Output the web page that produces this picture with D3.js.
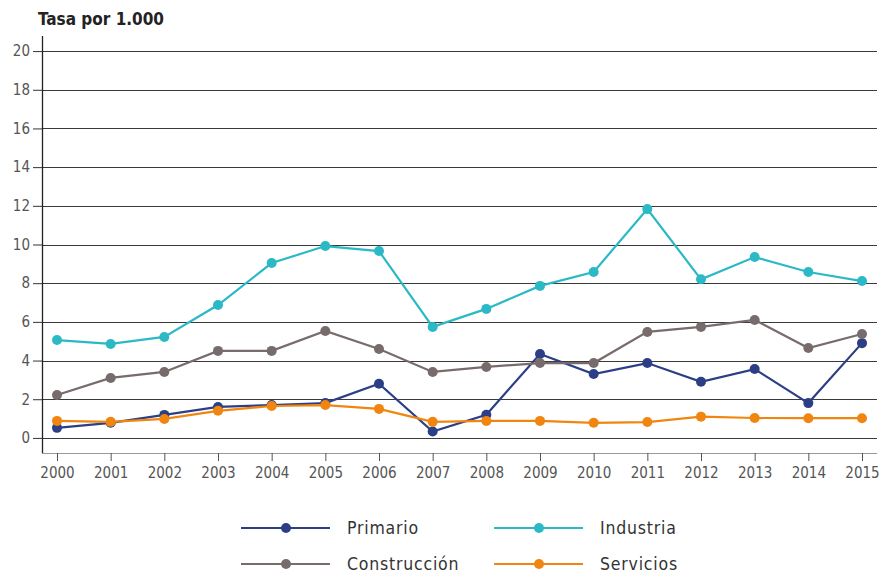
<!DOCTYPE html>
<html>
<head>
<meta charset="utf-8">
<script src="https://cdn.jsdelivr.net/npm/d3@7"></script>
<style>
  body { margin: 0; background: #fff; }
  svg text { font-family: "DejaVu Sans Condensed", "Roboto", sans-serif; }
</style>
</head>
<body>
<div id="chart"></div>
<script>
// Years on the x axis
const years = [2000, 2001, 2002, 2003, 2004, 2005, 2006, 2007, 2008, 2009, 2010, 2011, 2012, 2013, 2014, 2015];

// Rate per 1.000 for each sector
const primario     = [0.52, 0.78, 1.19, 1.6, 1.7, 1.8, 2.8, 0.33, 1.2, 4.34, 3.3, 3.87, 2.9, 3.56, 1.8, 4.9];
const industria    = [5.06, 4.86, 5.22, 6.87, 9.04, 9.92, 9.66, 5.74, 6.67, 7.86, 8.58, 11.83, 8.2, 9.35, 8.58, 8.11];
const construccion = [2.22, 3.1, 3.41, 4.5, 4.5, 5.53, 4.6, 3.41, 3.67, 3.87, 3.87, 5.48, 5.74, 6.1, 4.65, 5.37];
const servicios    = [0.88, 0.83, 0.98, 1.4, 1.65, 1.7, 1.5, 0.83, 0.88, 0.88, 0.78, 0.82, 1.1, 1.03, 1.02, 1.02];

const yTicks = [0, 2, 4, 6, 8, 10, 12, 14, 16, 18, 20];

const series = [
  { name: "Primario", values: primario, color: "#2c3e86" },
  { name: "Industria", values: industria, color: "#2bb9c6" },
  { name: "Construcción", values: construccion, color: "#786b6b" },
  { name: "Servicios", values: servicios, color: "#f0860f" }
];

const width = 883, height = 574;

const svg = d3.select("#chart")
    .append("svg")
    .attr("width", width)
    .attr("height", height);

// plot area
const plotLeft = 42, plotRight = 877, plotTop = 36, plotBottom = 453;

const x = d3.scalePoint()
    .domain(years)
    .range([57, 862]);

const y = d3.scaleLinear()
    .domain([-0.78, 20.78])
    .range([plotBottom, plotTop]);

// gridlines
svg.append("g")
    .selectAll("line")
    .data(yTicks)
    .enter()
    .append("line")
    .attr("x1", plotLeft)
    .attr("x2", plotRight)
    .attr("y1", d => Math.round(y(d)) + 0.5)
    .attr("y2", d => Math.round(y(d)) + 0.5)
    .attr("stroke", "#3a3a3a")
    .attr("stroke-width", 1.2);

// y axis
const yAxis = svg.append("g")
    .attr("transform", `translate(${plotLeft},0)`)
    .call(d3.axisLeft(y).tickValues(yTicks).tickSize(9).tickPadding(3).tickFormat(d3.format("d")));
yAxis.select(".domain").remove();
yAxis.selectAll(".tick line").attr("stroke", "#333");
yAxis.selectAll("text").attr("font-size", 15).attr("fill", "#555");

svg.append("line")
    .attr("x1", plotLeft + 0.5).attr("x2", plotLeft + 0.5)
    .attr("y1", plotTop).attr("y2", plotBottom)
    .attr("stroke", "#222").attr("stroke-width", 1.3);

// x axis
const xAxis = svg.append("g")
    .attr("transform", `translate(0,${plotBottom})`)
    .call(d3.axisBottom(x).tickSize(8).tickPadding(6).tickFormat(d3.format("d")));
xAxis.select(".domain")
    .attr("d", `M${plotLeft},0.5H${plotRight}`)
    .attr("stroke", "#999");
xAxis.selectAll(".tick line").attr("stroke", "#555");
xAxis.selectAll("text").attr("font-size", 15).attr("fill", "#555");

// title
svg.append("text")
    .attr("x", 38)
    .attr("y", 25)
    .attr("font-size", 17)
    .attr("font-weight", "bold")
    .attr("fill", "#222")
    .text("Tasa por 1.000");

// lines and markers
const line = d3.line()
    .x((d, i) => x(years[i]))
    .y(d => y(d));

series.forEach(s => {
  const g = svg.append("g");
  g.append("path")
      .datum(s.values)
      .attr("d", line)
      .attr("fill", "none")
      .attr("stroke", s.color)
      .attr("stroke-width", 2.2);
  g.selectAll("circle")
      .data(s.values)
      .enter()
      .append("circle")
      .attr("cx", (d, i) => x(years[i]))
      .attr("cy", d => y(d))
      .attr("r", 5)
      .attr("fill", s.color);
});

// legend
const legendPos = [
  { lx: 241, ty: 528 }, { lx: 494, ty: 528 },
  { lx: 241, ty: 564 }, { lx: 494, ty: 564 }
];
series.forEach((s, i) => {
  const p = legendPos[i];
  const g = svg.append("g").attr("transform", `translate(${p.lx},${p.ty})`);
  g.append("line")
      .attr("x1", 0).attr("x2", 89)
      .attr("stroke", s.color).attr("stroke-width", 2.2);
  g.append("circle").attr("cx", 45).attr("r", 5).attr("fill", s.color);
  g.append("text")
      .attr("x", 106)
      .attr("dy", "0.35em")
      .attr("font-size", 17.5)
      .attr("fill", "#333")
      .attr("letter-spacing", 0.8)
      .text(s.name);
});
</script>
</body>
</html>
